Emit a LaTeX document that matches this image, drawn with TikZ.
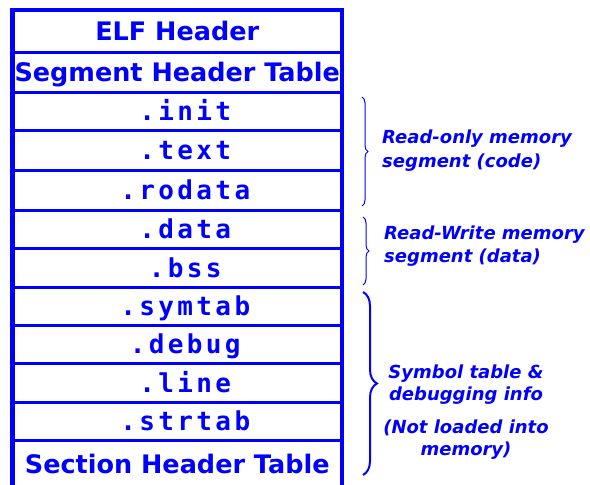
\documentclass[tikz,border=0pt]{standalone}
\usepackage{fontspec}
\setmainfont{DejaVu Sans}
\newfontfamily\monofnt[LetterSpace=13]{DejaVu Sans Mono}
\usetikzlibrary{decorations.pathreplacing, positioning}

\tikzset{
  sect/.style={draw=blue, line width=3pt, minimum width=329.5pt, inner sep=0pt, outer sep=0pt, text=blue},
  hdr/.style={sect, font=\bfseries\fontsize{25.5pt}{30pt}\selectfont, text height=18.6pt, text depth=0pt},
  mono/.style={sect, font=\monofnt\bfseries\fontsize{26pt}{30pt}\selectfont, text height=19.8pt, text depth=0pt,
    execute at begin node=\hspace*{16pt}},
  note/.style={text=blue, font=\bfseries\itshape\fontsize{18pt}{#1}\selectfont, inner sep=0pt},
  seg/.style={blue, decorate, decoration={brace, amplitude=#1}},
}

\begin{document}
\begin{tikzpicture}[x=1pt, y=-1pt]

    \useasboundingbox (0,0) rectangle (590,485);

    % file layout
    \node[hdr, minimum height=42pt] (elf) at (177.25,31) {ELF Header};
    \node[hdr, minimum height=40pt, below=0pt of elf] (seghdr) {Segment Header Table};
    \node[mono, minimum height=38pt, below=0pt of seghdr] (init) {.init};
    \node[mono, minimum height=40pt, below=0pt of init] (text) {.text};
    \node[mono, minimum height=40pt, below=0pt of text] (rodata) {.rodata};
    \node[mono, minimum height=38pt, below=0pt of rodata] (data) {.data};
    \node[mono, minimum height=39pt, below=0pt of data] (bss) {.bss};
    \node[mono, minimum height=38pt, below=0pt of bss] (symtab) {.symtab};
    \node[mono, minimum height=38pt, below=0pt of symtab] (debug) {.debug};
    \node[mono, minimum height=39pt, below=0pt of debug] (line) {.line};
    \node[mono, minimum height=38pt, below=0pt of line] (strtab) {.strtab};
    \node[hdr, minimum height=48pt, below=0pt of strtab] (sechdr) {Section Header Table};

    \draw[blue, line width=4.5pt] (12.5,500) -- (12.5,10) -- (342,10) -- (342,500);

    % segments
    \draw[seg=6pt, line width=1pt] (362,97) -- (362,206);
    \draw[seg=6pt, line width=1pt] (363,217) -- (363,285);
    \draw[seg=14pt, line width=2pt] (363,292) -- (363,475);

    \node[note=24pt, anchor=west, align=left] (ronote) at (382,151) {Read-only memory\\segment (code)};
    \node[note=23pt, anchor=west, align=left] (rwnote) at (384,245.7) {Read-Write memory\\segment (data)};
    \node[note=22pt, align=center] (symnote) at (466,411.8) {Symbol table \&\\debugging info\\[11pt](Not loaded into\\memory)};

  \end{tikzpicture}
\end{document}
